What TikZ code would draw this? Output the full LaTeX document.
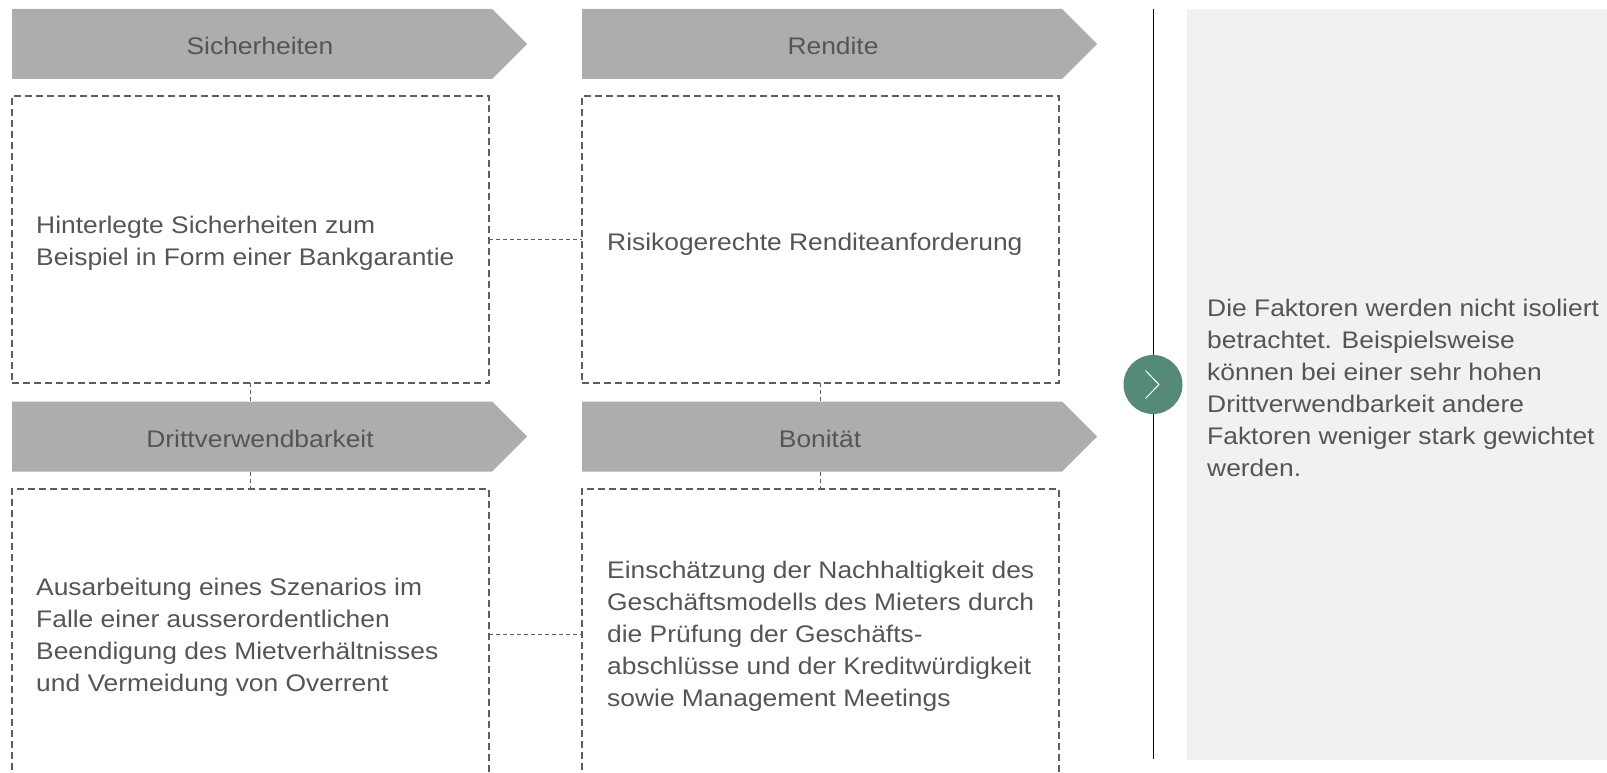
\documentclass[tikz,border=0pt]{standalone}
\usepackage{fontspec}
\setmainfont{Liberation Sans}[FakeStretch=1.1]
\usetikzlibrary{shapes.symbols}
\definecolor{arrowgray}{HTML}{ADADAD}
\definecolor{labelgray}{HTML}{555555}
\definecolor{textgray}{HTML}{555555}
\definecolor{boxline}{HTML}{5E5E5E}
\definecolor{panelgray}{HTML}{F1F1F1}
\definecolor{circgreen}{HTML}{548A76}
\tikzset{
  arrowshape/.style={signal, signal to=east, signal pointer angle=90, fill=arrowgray, draw=none,
    minimum width=515pt, minimum height=70pt, inner sep=0pt, outer sep=0pt, anchor=west},
  arrowlabel/.style={text=labelgray, font=\fontsize{24}{28}\selectfont, inner sep=0pt},
  dbox/.style={draw=boxline, line width=2pt, dash pattern=on 7pt off 4pt, rectangle,
    minimum width=477pt, inner sep=0pt, outer sep=0pt},
  boxtext/.style={text=textgray, font=\fontsize{24}{32}\selectfont, align=left, inner sep=0pt, anchor=west},
  conn/.style={draw=boxline, line width=1pt, dash pattern=on 4pt off 3pt},
}
\begin{document}
\begin{tikzpicture}[x=1pt,y=-1pt]
\useasboundingbox (0,0) rectangle (1607,773);
% arrows
\node[arrowshape] (a1) at (12,44) {};
\node[arrowshape] (a2) at (582,44) {};
\node[arrowshape] (a3) at (12,436.5) {};
\node[arrowshape] (a4) at (582,436.5) {};
\node[arrowlabel] (l1) at (260,46) {Sicherheiten};
\node[arrowlabel] (l2) at (833,46) {Rendite};
\node[arrowlabel] (l3) at (260,438.5) {Drittverwendbarkeit};
\node[arrowlabel] (l4) at (820,438.5) {Bonität};
% boxes
\node[dbox, minimum height=287pt] (b1) at (250.5,239.5) {};
\node[dbox, minimum height=287pt] (b2) at (820.5,239.5) {};
\node[dbox, minimum height=290pt] (b3) at (250.5,634) {};
\node[dbox, minimum height=290pt] (b4) at (820.5,634) {};
\node[boxtext] (t1) at (36,243) {Hinterlegte Sicherheiten zum\\Beispiel in Form einer Bankgarantie};
\node[boxtext] (t2) at (607,244) {Risikogerechte Renditeanforderung};
\node[boxtext] (t3) at (36,637) {Ausarbeitung eines Szenarios im\\Falle einer ausserordentlichen\\Beendigung des Mietverhältnisses\\und Vermeidung von Overrent};
\node[boxtext] (t4) at (607,636) {Einschätzung der Nachhaltigkeit des\\Geschäftsmodells des Mieters durch\\die Prüfung der Geschäfts-\\abschlüsse und der Kreditwürdigkeit\\sowie Management Meetings};
% connectors
\draw[conn] (b1.east) -- (b2.west);
\draw[conn] (b3.east) -- (b4.west);
\draw[conn] (b1.south) -- (b1.south |- a3.north);
\draw[conn] (b1.south |- a3.south) -- (b3.north);
\draw[conn] (b2.south) -- (b2.south |- a4.north);
\draw[conn] (b2.south |- a4.south) -- (b4.north);
% right side
\node[fill=panelgray, draw=none, minimum width=420pt, minimum height=751pt, inner sep=0pt] (panel) at (1397,384.5) {};
\node[boxtext] (pt) at (1207,388) {Die Faktoren werden nicht isoliert\\betrachtet. Beispielsweise\\können bei einer sehr hohen\\Drittverwendbarkeit andere\\Faktoren weniger stark gewichtet\\werden.};
\coordinate (vtop) at (1153,9);
\coordinate (vbot) at (1153,759);
\draw[black, line width=1pt] (vtop) -- (vbot);
\node[circle, fill=circgreen, minimum size=59pt, inner sep=0pt] (circ) at (1153,384.5) {};
\draw[white, line width=1pt] ([shift={(-7.5pt,14pt)}]circ.center) -- ([shift={(6pt,0pt)}]circ.center) -- ([shift={(-7.5pt,-14pt)}]circ.center);
\end{tikzpicture}
\end{document}
